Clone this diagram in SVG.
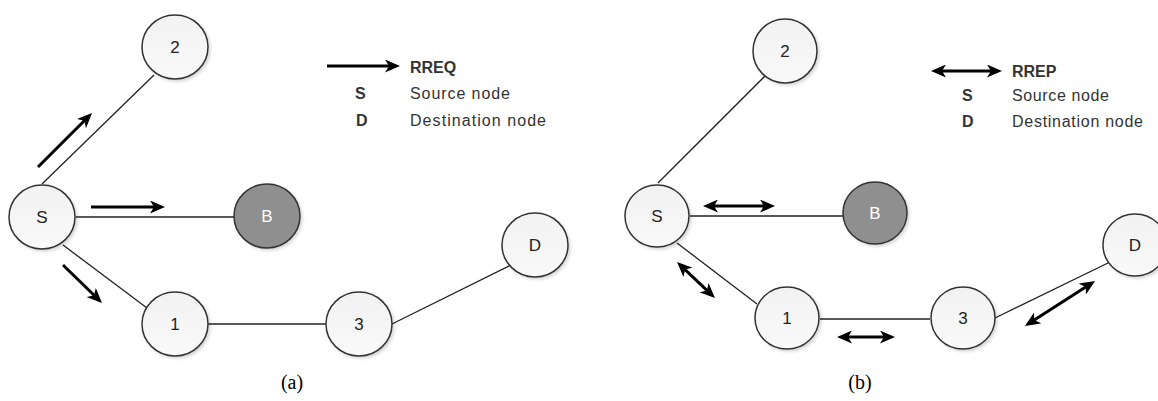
<svg xmlns="http://www.w3.org/2000/svg" width="1158" height="401" viewBox="0 0 1158 401">
<style>
.node{fill:url(#g);stroke:#333;stroke-width:1.5;filter:url(#sh)}
.bad{fill:#8f8f8f;stroke:#333;stroke-width:1.5;filter:url(#sh)}
.lbl{font-family:"Liberation Sans",Arial,sans-serif;font-size:17px;fill:#222;text-anchor:middle;dominant-baseline:central}
.lblw{font-family:"Liberation Sans",Arial,sans-serif;font-size:17px;fill:#fff;text-anchor:middle;dominant-baseline:central}
.edge{stroke:#222;stroke-width:1.3;fill:none}
.arr{stroke:#000;stroke-width:3;fill:none}
.leg{font-family:"Liberation Sans",Arial,sans-serif;font-size:16px;fill:#333}
.legb{font-family:"Liberation Sans",Arial,sans-serif;font-size:16px;fill:#333;font-weight:bold}
.cap{font-family:"Liberation Serif","Times New Roman",serif;font-size:20px;fill:#000;text-anchor:middle}
</style>
<defs>
<linearGradient id="g" x1="0" y1="0" x2="0" y2="1"><stop offset="0" stop-color="#f2f2f2"/><stop offset="1" stop-color="#f9f9f9"/></linearGradient>
<filter id="sh" x="-20%" y="-20%" width="150%" height="150%"><feDropShadow dx="2" dy="2" stdDeviation="1.5" flood-color="#000" flood-opacity="0.15"/></filter>
<marker id="ah" markerUnits="userSpaceOnUse" markerWidth="15" markerHeight="13" viewBox="0 0 15 13" refX="9" refY="6.5" orient="auto-start-reverse"><path d="M0,0 L15,6.5 L0,13 L4,6.5 z" fill="#000"/></marker>
</defs>
<rect width="1158" height="401" fill="#fff"/>
<g id="connectors">
<line class="edge" x1="42" y1="184" x2="154" y2="75"/>
<line class="edge" x1="76" y1="217" x2="234" y2="217"/>
<line class="edge" x1="63" y1="245" x2="147" y2="308"/>
<line class="edge" x1="208" y1="324" x2="326" y2="324"/>
<line class="edge" x1="392" y1="324" x2="511" y2="265"/>
<line class="edge" x1="658" y1="183" x2="765" y2="76"/>
<line class="edge" x1="690" y1="216" x2="843" y2="216"/>
<line class="edge" x1="677" y1="243" x2="757" y2="304"/>
<line class="edge" x1="820" y1="319" x2="930" y2="319"/>
<line class="edge" x1="995" y1="318" x2="1108" y2="263"/>
<line class="arr" x1="38" y1="167" x2="87.8" y2="117.2" marker-end="url(#ah)"/>
<line class="arr" x1="91" y1="207" x2="159" y2="207" marker-end="url(#ah)"/>
<line class="arr" x1="63" y1="265" x2="97.7" y2="298.8" marker-end="url(#ah)"/>
<line class="arr" x1="709" y1="206" x2="769" y2="206" marker-start="url(#ah)" marker-end="url(#ah)"/>
<line class="arr" x1="681.4" y1="266.1" x2="710.6" y2="293.9" marker-start="url(#ah)" marker-end="url(#ah)"/>
<line class="arr" x1="843" y1="337" x2="889" y2="337" marker-start="url(#ah)" marker-end="url(#ah)"/>
<line class="arr" x1="1030" y1="322.8" x2="1090" y2="284.2" marker-start="url(#ah)" marker-end="url(#ah)"/>
</g>
<g id="a-node-2"><ellipse class="node" cx="175" cy="47" rx="33" ry="32"/><text class="lbl" x="175" y="47">2</text></g>
<g id="a-node-S"><ellipse class="node" cx="42" cy="217" rx="33" ry="32"/><text class="lbl" x="42" y="217">S</text></g>
<g id="a-node-B"><ellipse class="bad" cx="267" cy="216" rx="33" ry="32"/><text class="lblw" x="267" y="216">B</text></g>
<g id="a-node-1"><ellipse class="node" cx="175" cy="324" rx="33" ry="32"/><text class="lbl" x="175" y="324">1</text></g>
<g id="a-node-3"><ellipse class="node" cx="359" cy="324" rx="33" ry="32"/><text class="lbl" x="359" y="324">3</text></g>
<g id="a-node-D"><ellipse class="node" cx="535" cy="245" rx="33" ry="32"/><text class="lbl" x="535" y="245">D</text></g>
<g id="b-node-2"><ellipse class="node" cx="785" cy="51" rx="32" ry="32"/><text class="lbl" x="785" y="51">2</text></g>
<g id="b-node-S"><ellipse class="node" cx="657" cy="216" rx="32" ry="31"/><text class="lbl" x="657" y="216">S</text></g>
<g id="b-node-B"><ellipse class="bad" cx="875" cy="213" rx="32" ry="31"/><text class="lblw" x="875" y="213">B</text></g>
<g id="b-node-1"><ellipse class="node" cx="787" cy="318" rx="32" ry="31"/><text class="lbl" x="787" y="318">1</text></g>
<g id="b-node-3"><ellipse class="node" cx="963" cy="318" rx="32" ry="31"/><text class="lbl" x="963" y="318">3</text></g>
<g id="b-node-D"><ellipse class="node" cx="1135" cy="245" rx="32" ry="31"/><text class="lbl" x="1135" y="245">D</text></g>
<g id="legend-a">
<line class="arr" x1="327" y1="66" x2="394" y2="66" marker-end="url(#ah)"/>
<text class="legb" x="410" y="73">RREQ</text>
<text class="legb" x="355" y="99">S</text>
<text class="leg" x="410" y="99" textLength="100" lengthAdjust="spacing">Source node</text>
<text class="legb" x="356" y="126">D</text>
<text class="leg" x="410" y="126" textLength="136" lengthAdjust="spacing">Destination node</text>
</g>
<g id="legend-b">
<line class="arr" x1="937" y1="71" x2="996" y2="71" marker-start="url(#ah)" marker-end="url(#ah)"/>
<text class="legb" x="1012" y="77">RREP</text>
<text class="legb" x="962" y="101">S</text>
<text class="leg" x="1012" y="101" textLength="97" lengthAdjust="spacing">Source node</text>
<text class="legb" x="962" y="127">D</text>
<text class="leg" x="1012" y="127" textLength="131" lengthAdjust="spacing">Destination node</text>
</g>
<text class="cap" x="292" y="389">(a)</text>
<text class="cap" x="860" y="389">(b)</text>
</svg>
